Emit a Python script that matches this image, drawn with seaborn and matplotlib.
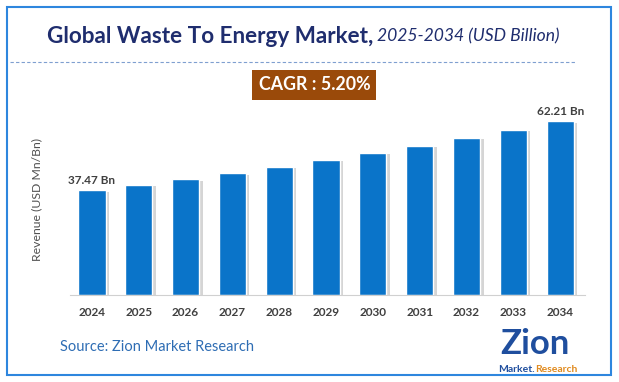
import pandas as pd
import matplotlib.pyplot as plt
import matplotlib.patheffects as pe
from matplotlib.patches import Rectangle
import seaborn as sns

# data
years = ['2024', '2025', '2026', '2027', '2028', '2029',
         '2030', '2031', '2032', '2033', '2034']
revenue = [37.47, 39.42, 41.47, 43.62, 45.89, 48.28,
           50.79, 53.43, 56.21, 59.13, 62.21]
bar_labels = {0: '37.47 Bn', 10: '62.21 Bn'}

df = pd.DataFrame({'year': years, 'revenue': revenue})

sns.set_style('white')
plt.rcParams['font.family'] = ['Lato', 'DejaVu Sans']

fig = plt.figure(figsize=(6.19, 3.82), dpi=100)
ax = fig.add_axes([0.113, 0.228, 0.832, 0.497])

sns.barplot(data=df, x='year', y='revenue', color='#0A74C9',
            saturation=1, width=0.58, ax=ax)
for bar in ax.patches:
    bar.set_path_effects([pe.SimplePatchShadow(offset=(2.5, -1), alpha=0.22,
                                               shadow_rgbFace='#444444'),
                          pe.Normal()])

for i, txt in bar_labels.items():
    ax.text(i, revenue[i] + 1.5, txt, ha='center', va='bottom',
            fontsize=8.5, fontweight='bold', color='#404040')

ax.set_xlim(-0.47, 10.53)
ax.set_ylim(0, 68)
ax.set_yticks([])
ax.set_xlabel('')
ax.set_ylabel('Revenue (USD Mn/Bn)', fontsize=8.8, color='#505050', labelpad=20)
ax.tick_params(axis='x', length=0, pad=9, labelsize=8.5, labelcolor='#404040')
for lab in ax.get_xticklabels():
    lab.set_fontweight('bold')
sns.despine(ax=ax, left=True)
ax.spines['bottom'].set_color('#d0d0d0')

# frame
fig.add_artist(Rectangle((7 / 619, 1 - 375 / 382), 604 / 619, 368 / 382,
                         transform=fig.transFigure, fill=False,
                         edgecolor='#2E86DE', linewidth=1.5))

# title
fig.text(373 / 619, 0.905, 'Global Waste To Energy Market,', ha='right', va='center',
         fontsize=16.2, fontweight='bold', color='#1F2D6E')
fig.text(377 / 619, 0.905, '2025-2034 (USD Billion)', ha='left', va='center',
         fontsize=12.6, style='italic', color='#1F2D6E')
fig.add_artist(plt.Line2D([10 / 619, 575 / 619], [1 - 62 / 382, 1 - 62 / 382],
                          transform=fig.transFigure, color='#7F9FD0',
                          linewidth=0.8, linestyle=(0, (3, 2))))

# CAGR box
fig.text(0.508, 1 - 85 / 382, 'CAGR : 5.20%', ha='center', va='center',
         fontsize=12.8, fontweight='bold', color='white',
         bbox=dict(boxstyle='square,pad=0.35', facecolor='#9A4A0A',
                   edgecolor='none'))

# source
fig.text(60 / 619, 1 - 347 / 382, 'Source: Zion Market Research', ha='left',
         va='center', fontsize=10.5, color='#2E6DB4')

# logo
fig.text(535 / 619, 1 - 344 / 382, 'Zion', ha='center', va='center',
         fontsize=25, fontweight='bold', color='#1F4E9E')
fig.text(535 / 619, 1 - 369 / 382, 'Market.', ha='right', va='center',
         fontsize=7.5, fontweight='bold', color='#1F4E9E')
fig.text(535 / 619, 1 - 369 / 382, 'Research', ha='left', va='center',
         fontsize=7.5, fontweight='bold', color='#E08A1E')

fig.savefig('out.png', dpi=100)
